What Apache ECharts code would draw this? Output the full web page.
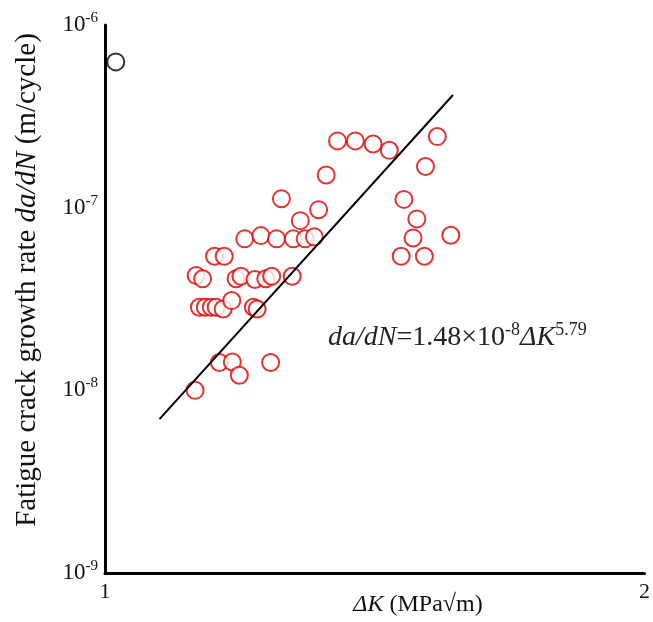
<!DOCTYPE html>
<html>
<head>
<meta charset="UTF-8">
<script src="https://cdn.jsdelivr.net/npm/echarts@6/dist/echarts.min.js"></script>
<style>
  html, body { margin: 0; padding: 0; background: #fff; }
</style>
</head>
<body>
<div id="main" style="width:653px;height:622px"></div>
<script>
// measured points: [ΔK, da/dN]
var dK = [1.431, 1.464, 1.497, 1.527, 1.616, 1.410, 1.594, 1.327, 1.554, 1.396,
          1.362, 1.578, 1.259, 1.289, 1.318, 1.349, 1.371, 1.388, 1.571, 1.641,
          1.549, 1.592, 1.203, 1.221, 1.169, 1.181, 1.243, 1.252, 1.278, 1.298,
          1.309, 1.347, 1.175, 1.186, 1.197, 1.206, 1.219, 1.235, 1.275, 1.282,
          1.212, 1.236, 1.249, 1.307, 1.167];
var rate = [2.32e-7, 2.32e-7, 2.23e-7, 2.06e-7, 2.45e-7, 1.51e-7, 1.68e-7, 1.12e-7, 1.11e-7, 9.75e-8,
            8.49e-8, 8.68e-8, 6.75e-8, 7.03e-8, 6.75e-8, 6.75e-8, 6.75e-8, 6.92e-8, 6.83e-8, 7.06e-8,
            5.42e-8, 5.42e-8, 5.42e-8, 5.42e-8, 4.25e-8, 4.08e-8, 4.08e-8, 4.21e-8, 4.04e-8, 4.08e-8,
            4.21e-8, 4.21e-8, 2.85e-8, 2.85e-8, 2.85e-8, 2.85e-8, 2.79e-8, 3.10e-8, 2.85e-8, 2.79e-8,
            1.42e-8, 1.43e-8, 1.21e-8, 1.42e-8, 1.00e-8];
var fitLine = [[1.101, 6.95e-9], [1.645, 4.14e-7]];
var legendMark = [[1.02, 6.28e-7]];
var xTicks = ['1', '2'];

var pts = dK.map(function (x, i) { return [x, rate[i]]; });
var serif = 'Liberation Serif, Times New Roman, serif';
var ink = '#111';

var myChart = echarts.init(document.getElementById('main'));
var option = {
    animation: false,
    backgroundColor: '#fff',
    grid: { left: 105, top: 25, right: 5, bottom: 49 },
    xAxis: {
        type: 'value',
        min: 1, max: 2, interval: 1,
        axisLine: { lineStyle: { color: '#000', width: 3 } },
        axisTick: { show: false },
        splitLine: { show: false },
        axisLabel: {
            fontFamily: serif, fontSize: 22, color: ink, margin: 8,
            formatter: function (v) { return xTicks[Math.round(v) - 1]; }
        }
    },
    yAxis: {
        type: 'log',
        logBase: 10,
        min: 1e-9, max: 1e-6,
        axisLine: { show: true, lineStyle: { color: '#000', width: 3 } },
        axisTick: { show: false },
        splitLine: { show: false },
        axisLabel: {
            margin: 7,
            formatter: function (v) {
                var e = Math.round(Math.log10(v));
                return '{b|10}{s|' + e + '}';
            },
            rich: {
                b: { fontFamily: serif, fontSize: 23, color: ink },
                s: { fontFamily: serif, fontSize: 15, color: ink, padding: [0, 0, 14, 0] }
            }
        }
    },
    series: [
        {
            type: 'scatter',
            data: pts,
            symbol: 'emptyCircle',
            symbolSize: 17,
            itemStyle: { color: '#dc0000', borderColor: '#dc0000', borderWidth: 2.2 }
        },
        {
            type: 'line',
            data: fitLine,
            showSymbol: false,
            symbol: 'none',
            lineStyle: { color: '#000', width: 2 },
            z: 3
        },
        {
            type: 'scatter',
            data: legendMark,
            symbol: 'emptyCircle',
            symbolSize: 17,
            itemStyle: { color: '#000', borderColor: '#000', borderWidth: 2.8 }
        }
    ],
    graphic: [
        {
            // y axis title
            type: 'text',
            x: 27, y: 280,
            rotation: Math.PI / 2,
            style: {
                text: '{n|Fatigue crack growth rate }{i|da/dN}{n| (m/cycle)}',
                align: 'center', verticalAlign: 'middle',
                rich: {
                    n: { fontFamily: serif, fontSize: 29, fill: ink },
                    i: { fontFamily: serif, fontSize: 29, fontStyle: 'italic', fill: ink }
                }
            }
        },
        {
            // x axis title
            type: 'text',
            x: 418, y: 605,
            style: {
                text: '{i|ΔK}{n| (MPa√m)}',
                align: 'center', verticalAlign: 'middle',
                rich: {
                    n: { fontFamily: serif, fontSize: 24, fill: ink },
                    i: { fontFamily: serif, fontSize: 24, fontStyle: 'italic', fill: ink }
                }
            }
        },
        {
            type: 'text',
            x: 328, y: 338,
            style: {
                text: '{i|da/dN}{n|=1.48×10}{s|-8}{i|ΔK}{s|5.79}',
                verticalAlign: 'middle',
                rich: {
                    i: { fontFamily: serif, fontSize: 28, fontStyle: 'italic', fill: '#222' },
                    n: { fontFamily: serif, fontSize: 28, fill: '#222' },
                    s: { fontFamily: serif, fontSize: 18, fill: '#222', padding: [0, 0, 16, 0] }
                }
            }
        }
    ]
};
myChart.setOption(option);
</script>
</body>
</html>
